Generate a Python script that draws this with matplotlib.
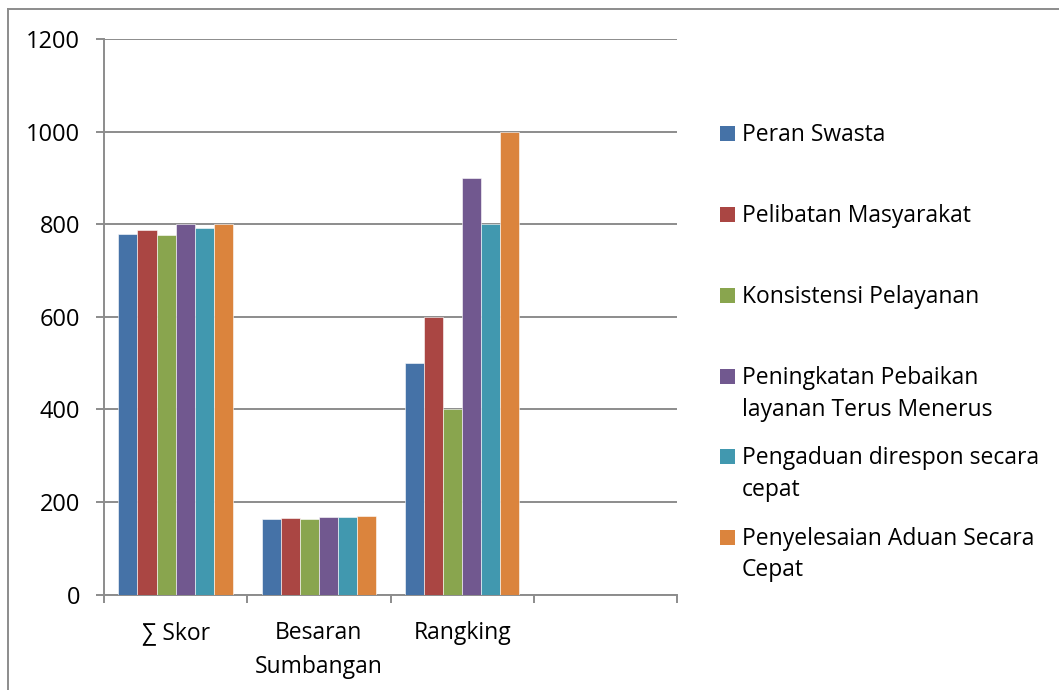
import matplotlib.pyplot as plt
from matplotlib.patches import Rectangle
from matplotlib.lines import Line2D
import numpy as np

plt.rcParams["font.family"] = ["Open Sans", "DejaVu Sans"]

categories = ["∑ Skor", "Besaran\nSumbangan", "Rangking", ""]
series_names = [
    "Peran Swasta",
    "Pelibatan Masyarakat",
    "Konsistensi Pelayanan",
    "Peningkatan Pebaikan\nlayanan Terus Menerus",
    "Pengaduan direspon secara\ncepat",
    "Penyelesaian Aduan Secara\nCepat",
]
series_colors = ["#4572A7", "#AA4643", "#89A54E", "#71588F", "#4198AF", "#DB843D"]

peran_swasta = [779, 163, 500]
pelibatan_masyarakat = [787, 166, 600]
konsistensi_pelayanan = [776, 163, 400]
peningkatan_perbaikan = [800, 168, 900]
pengaduan_direspon = [792, 167, 800]
penyelesaian_aduan = [800, 170, 1000]

values = [peran_swasta, pelibatan_masyarakat, konsistensi_pelayanan,
          peningkatan_perbaikan, pengaduan_direspon, penyelesaian_aduan]

W, H = 1059, 690
FS = 16.5
fig = plt.figure(figsize=(W / 100, H / 100), dpi=100)
ax = fig.add_axes([104 / W, 1 - 594.5 / H, (677 - 104) / W, (594.5 - 39) / H])

grid_color = "#8C8C8C"
n = len(values)
bar_w = 1 / (n + 1.5)
x = np.arange(len(values[0]))
for i, (vals, color) in enumerate(zip(values, series_colors)):
    offset = (i - (n - 1) / 2) * bar_w
    ax.bar(x + offset, vals, width=bar_w, color=color,
           edgecolor="#FFFFFF", linewidth=0.4, zorder=3)

ax.set_xlim(-0.5, len(categories) - 0.5)
ax.set_ylim(0, 1200)
ax.set_yticks(range(0, 1201, 200))
ax.yaxis.grid(True, color=grid_color, linewidth=1.4, zorder=0)
ax.set_axisbelow(True)

ax.set_xticks(range(len(categories)))
ax.set_xticklabels(categories)
for lbl in ax.get_xticklabels():
    lbl.set_linespacing(1.55)
ax.set_xticks(np.arange(-0.5, len(categories)), minor=True)
ax.tick_params(axis="x", which="major", length=0, pad=19, labelsize=FS)
ax.tick_params(axis="x", which="minor", length=8 * 0.72, width=1.4,
               color=grid_color, direction="out")
ax.tick_params(axis="y", length=8 * 0.72, width=1.4, color=grid_color,
               pad=11.5, labelsize=17)

for side in ["top", "right"]:
    ax.spines[side].set_visible(False)
for side in ["left", "bottom"]:
    ax.spines[side].set_color(grid_color)
    ax.spines[side].set_linewidth(1.4)

# legend drawn by hand so markers sit on the first line of each label
first_line_y = [135, 216, 297, 378, 458, 539]
line_step = 31.5
for name, color, y0 in zip(series_names, series_colors, first_line_y):
    fig.patches.append(Rectangle((720 / W, 1 - (y0 + 6) / H), 15 / W, 15 / H,
                                 transform=fig.transFigure, facecolor=color,
                                 edgecolor="none"))
    for k, line in enumerate(name.split("\n")):
        fig.text(742 / W, 1 - (y0 + k * line_step) / H, line,
                 ha="left", va="center", fontsize=FS)

# outer chart border (top and left edges visible)
fig.add_artist(Line2D([8 / W, 1], [1 - 9 / H, 1 - 9 / H], color="#8C8C8C",
                      linewidth=1.4, transform=fig.transFigure))
fig.add_artist(Line2D([8 / W, 8 / W], [0, 1 - 9 / H], color="#8C8C8C",
                      linewidth=1.4, transform=fig.transFigure))

fig.savefig("out.png", dpi=100, facecolor="white")
